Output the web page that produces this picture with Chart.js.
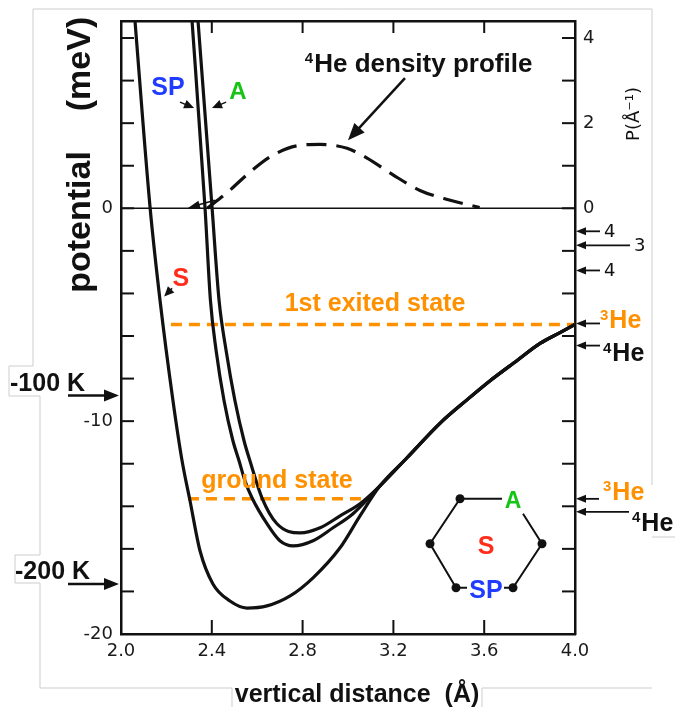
<!DOCTYPE html>
<html>
<head>
<meta charset="utf-8">
<script src="https://cdn.jsdelivr.net/npm/chart.js@4.4.1/dist/chart.umd.min.js"></script>
<style>
  html, body { margin: 0; padding: 0; background: #fff; }
</style>
</head>
<body>
<canvas id="c" width="675" height="707"></canvas>
<script>
// distance (Å) / potential (meV)
const sX = [2.055, 2.128, 2.172, 2.229, 2.269, 2.304, 2.348, 2.405, 2.480, 2.555, 2.643, 2.745, 2.846, 2.965, 3.053];
const sV = [9.7, 0.05, -4.33, -9.04, -11.86, -13.74, -16.09, -17.65, -18.45, -18.78, -18.68, -18.21, -17.36, -15.95, -14.45];
const spX = [2.307, 2.370, 2.394, 2.419, 2.454, 2.493, 2.520, 2.546, 2.577, 2.643, 2.700, 2.758, 2.846, 2.934, 3.022];
const spV = [9.7, 0.05, -4.33, -6.68, -9.04, -10.92, -11.86, -12.80, -13.6, -14.82, -15.62, -15.86, -15.62, -15.01, -14.35];
const aX = [2.333, 2.401, 2.432, 2.463, 2.502, 2.542, 2.568, 2.621, 2.687, 2.789, 2.877, 2.965, 3.053];
const aV = [9.7, 0.05, -4.33, -6.68, -9.04, -10.92, -11.86, -13.6, -14.82, -15.25, -15.01, -14.45, -13.88];
// the three curves run together past ~3.1 Å
const tailX = [3.141, 3.26, 3.405, 3.524, 3.626, 3.745, 3.846, 3.934, 4.0];
const tailV = [-13.04, -11.72, -10.1, -9.0, -8.1, -7.15, -6.35, -5.84, -5.45];

// 4He density profile, P (1/Å) on the right axis
const rhoX = [2.38, 2.47, 2.568, 2.67, 2.789, 2.877, 2.996, 3.084, 3.2, 3.317, 3.45, 3.58];
const rhoP = [0, 0.38, 0.85, 1.25, 1.48, 1.5, 1.41, 1.18, 0.78, 0.42, 0.19, 0.02];

// bound state levels
const levelNames = ['1st exited state', 'ground state'];
const levelV = [-5.46, -13.65];
const levelFrom = [2.22, 2.295];
const levelTo = [4.0, 3.084];

// marks beside the axes
const kNames = ['-100 K', '-200 K'];
const kV = [-8.8, -17.65];
const sideNames = ['4', '3', '4'];
const sideV = [-1.08, -1.74, -2.92];
const heNames = ['3', '4', '3', '4'];
const heV = [-5.41, -6.45, -13.65, -14.26];

const xTicks = [2.0, 2.4, 2.8, 3.2, 3.6, 4.0];
const vTicks = [-20, -10, 0];
const pTicks = [0, 2, 4];

const ORANGE = '#ff9100';
const INK = '#111';
const BOLD = 'bold 25px "Liberation Sans", Arial, sans-serif';

const pts = (xs, ys) => xs.map((x, i) => ({ x: x, y: ys[i] }));
const curve = (xs, ys) => pts(xs.concat(tailX), ys.concat(tailV));

const lineDs = (data, extra) => Object.assign({
  data: data, showLine: true, pointRadius: 0, borderColor: INK, borderWidth: 3.2,
  cubicInterpolationMode: 'monotone', xAxisID: 'x', yAxisID: 'y'
}, extra || {});

const datasets = [
  lineDs([{ x: 2, y: 0 }, { x: 4, y: 0 }], { borderWidth: 1.5 }),
  lineDs(curve(sX, sV)),
  lineDs(curve(spX, spV)),
  lineDs(curve(aX, aV)),
  lineDs(pts(rhoX, rhoP), { yAxisID: 'y2', borderDash: [20, 10] })
];
levelV.forEach((v, i) => {
  datasets.push(lineDs([{ x: levelFrom[i], y: v }, { x: levelTo[i], y: v }],
    { borderColor: ORANGE, borderDash: [11, 7], borderWidth: 3.5 }));
});

function seg(c, p) {
  c.beginPath();
  c.moveTo(p[0][0], p[0][1]);
  for (let i = 1; i < p.length; i++) c.lineTo(p[i][0], p[i][1]);
  c.stroke();
}

function arrow(c, x1, y1, x2, y2, len, half, w) {
  const ang = Math.atan2(y2 - y1, x2 - x1);
  const co = Math.cos(ang), si = Math.sin(ang);
  c.lineWidth = w;
  c.beginPath();
  c.moveTo(x1, y1);
  c.lineTo(x2 - co * len * 0.7, y2 - si * len * 0.7);
  c.stroke();
  c.beginPath();
  c.moveTo(x2, y2);
  c.lineTo(x2 - co * len + si * half, y2 - si * len - co * half);
  c.lineTo(x2 - co * len - si * half, y2 - si * len + co * half);
  c.closePath();
  c.fill();
}

function text(c, s, x, y, font, color, align) {
  c.font = font;
  c.fillStyle = color;
  c.textAlign = align || 'left';
  c.textBaseline = 'middle';
  c.fillText(s, x, y);
}

// superscript mass number + "He"
function he(c, sup, x, y, color, size) {
  c.fillStyle = color;
  c.textBaseline = 'middle';
  c.textAlign = 'left';
  c.font = 'bold 15px "Liberation Sans", Arial, sans-serif';
  c.fillText(sup, x, y - 6);
  const w = c.measureText(sup).width;
  c.font = 'bold ' + (size || 25) + 'px "Liberation Sans", Arial, sans-serif';
  c.fillText('He', x + w + 1, y);
}

const decor = {
  id: 'decor',
  afterDraw(chart) {
    const c = chart.ctx, a = chart.chartArea;
    const X = v => chart.scales.x.getPixelForValue(v);
    const Y = v => chart.scales.y.getPixelForValue(v);
    c.save();
    c.lineCap = 'butt';

    // faint edges of the pasted scan
    c.strokeStyle = '#cdcdcd';
    c.lineWidth = 1;
    seg(c, [[33, 9], [652, 9], [652, 485]]);
    seg(c, [[652, 537], [675, 537]]);
    seg(c, [[33, 9], [33, 366], [9, 366], [9, 396], [40, 396], [40, 555], [15, 555], [15, 583], [40, 583], [40, 688], [232, 688], [232, 707]]);
    seg(c, [[482, 707], [482, 688], [652, 688]]);

    // inward tick marks
    c.strokeStyle = INK;
    c.fillStyle = INK;
    c.lineWidth = 2;
    for (let v = -18; v <= 8; v += 2) {
      seg(c, [[a.left, Y(v)], [a.left + 13, Y(v)]]);
      seg(c, [[a.right - 13, Y(v)], [a.right, Y(v)]]);
    }
    [2.4, 2.8, 3.2, 3.6].forEach(v => {
      seg(c, [[X(v), a.bottom], [X(v), a.bottom - 14]]);
      seg(c, [[X(v), a.top], [X(v), a.top + 12]]);
    });

    // axis titles
    c.save();
    c.translate(81, 0);
    c.rotate(-Math.PI / 2);
    text(c, 'potential', -222, 0, 'bold 34px "Liberation Sans", Arial, sans-serif', INK, 'center');
    text(c, '(meV)', -64, 0, 'bold 34px "Liberation Sans", Arial, sans-serif', INK, 'center');
    c.restore();
    c.save();
    c.translate(634, 114);
    c.rotate(-Math.PI / 2);
    text(c, 'P(Å⁻¹)', 0, 0, '18px "DejaVu Sans", sans-serif', INK, 'center');
    c.restore();
    c.font = 'bold 25px "Liberation Sans", Arial, sans-serif';
    c.fillStyle = INK;
    c.textAlign = 'center';
    c.textBaseline = 'alphabetic';
    c.fillText('vertical distance  (Å)', 357, 702);

    // density profile label
    he(c, '4', X(2.81), Y(6.73), INK, 26);
    c.font = 'bold 26px "Liberation Sans", Arial, sans-serif';
    const heW = c.measureText('He').width;
    c.font = 'bold 15px "Liberation Sans", Arial, sans-serif';
    const supW = c.measureText('4').width;
    text(c, ' density profile', X(2.81) + supW + 1 + heW, Y(6.73), 'bold 26px "Liberation Sans", Arial, sans-serif', INK);
    c.fillStyle = INK;
    arrow(c, X(3.251), Y(6.12), X(3.0), Y(3.2), 17, 7, 2.5);

    // curve labels
    text(c, 'SP', X(2.207), Y(5.65), BOLD, '#1f3cff', 'center');
    text(c, 'A', X(2.515), Y(5.46), 'bold 24px "Liberation Sans", Arial, sans-serif', '#16c416', 'center');
    text(c, 'S', X(2.264), Y(-3.34), BOLD, '#ff2d1a', 'center');
    c.fillStyle = INK;
    arrow(c, X(2.26), Y(4.99), X(2.322), Y(4.71), 10, 4.5, 1.5);
    arrow(c, X(2.463), Y(4.99), X(2.401), Y(4.71), 10, 4.5, 1.5);
    arrow(c, X(2.225), Y(-3.76), X(2.19), Y(-4.14), 10, 4.5, 1.5);
    arrow(c, X(2.414), Y(0.38), X(2.295), Y(0.02), 12, 4, 1.5);

    // state labels
    text(c, levelNames[0], X(3.119), Y(-4.52), BOLD, ORANGE, 'center');
    text(c, levelNames[1], X(2.687), Y(-12.8), BOLD, ORANGE, 'center');

    // temperature marks on the left
    const kLeft = [10, 15];
    kNames.forEach((s, i) => {
      const y = Y(kV[i]);
      text(c, s, kLeft[i], y - 12, BOLD, INK);
      c.fillStyle = INK;
      arrow(c, a.left - 53, y, a.left - 2, y, 15, 6, 2.5);
    });

    // marks on the right axis
    const sideTail = [25, 55, 25];
    sideNames.forEach((s, i) => {
      const y = Y(sideV[i]);
      c.fillStyle = INK;
      arrow(c, a.right + sideTail[i], y, a.right + 1, y, 10, 4, 1.8);
      text(c, s, a.right + sideTail[i] + 4, y + 1, '18px "DejaVu Sans", sans-serif', INK);
    });
    const heTail = [25, 25, 24, 54];
    const heLeft = [25, 28, 28, 57];
    const heDy = [-2, 9, -6, 12];
    const heColor = [ORANGE, INK, ORANGE, INK];
    heNames.forEach((s, i) => {
      const y = Y(heV[i]);
      c.fillStyle = INK;
      arrow(c, a.right + heTail[i], y, a.right + 1, y, 10, 4, 1.8);
      he(c, s, a.right + heLeft[i], y + heDy[i], heColor[i]);
    });

    // hexagon inset
    const cx = X(3.608), cy = Y(-15.76);
    const TL = [cx - 26, cy - 45], L = [cx - 56, cy], BL = [cx - 30, cy + 44];
    const BR = [cx + 27, cy + 44], R = [cx + 56, cy];
    c.strokeStyle = INK;
    c.lineWidth = 2;
    seg(c, [[cx + 16, cy - 45], TL, L, BL, [cx - 19, cy + 44]]);
    seg(c, [[cx + 18, cy + 44], BR, R, [cx + 37, cy - 30]]);
    c.fillStyle = INK;
    [TL, L, BL, BR, R].forEach(p => {
      c.beginPath();
      c.arc(p[0], p[1], 4.5, 0, Math.PI * 2);
      c.fill();
    });
    text(c, 'A', cx + 27, cy - 42, 'bold 23px "Liberation Sans", Arial, sans-serif', '#16c416', 'center');
    text(c, 'S', cx, cy + 3, BOLD, '#ff2d1a', 'center');
    text(c, 'SP', cx, cy + 47, BOLD, '#1f3cff', 'center');

    c.restore();
  }
};

const tickFont = { family: '"DejaVu Sans", sans-serif', size: 18 };
const edge = { display: true, color: INK, width: 2.5 };
const noGrid = { display: false, drawTicks: false };

new Chart(document.getElementById('c'), {
  type: 'scatter',
  data: { datasets: datasets },
  options: {
    responsive: false,
    animation: false,
    devicePixelRatio: 1,
    layout: { padding: 0 },
    plugins: { legend: { display: false }, tooltip: { enabled: false } },
    scales: {
      x: {
        type: 'linear', position: 'bottom', min: 2, max: 4,
        grid: noGrid, border: edge,
        ticks: { font: tickFont, color: '#1a1a1a', padding: 7, maxRotation: 0, autoSkip: false,
                 callback: v => v.toFixed(1) },
        afterBuildTicks: s => { s.ticks = xTicks.map(v => ({ value: v })); },
        afterFit: s => { s.height = 73; }
      },
      xTop: {
        type: 'linear', position: 'top', min: 2, max: 4,
        grid: noGrid, border: edge, ticks: { display: false },
        afterFit: s => { s.height = 21; }
      },
      y: {
        type: 'linear', position: 'left', min: -20, max: 8.8,
        grid: noGrid, border: edge,
        ticks: { font: tickFont, color: '#1a1a1a', padding: 8, autoSkip: false, callback: v => String(v) },
        afterBuildTicks: s => { s.ticks = vTicks.map(v => ({ value: v })); },
        afterFit: s => { s.width = 121; }
      },
      y2: {
        type: 'linear', position: 'right', min: -10, max: 4.4,
        grid: noGrid, border: edge,
        ticks: { font: tickFont, color: '#1a1a1a', padding: 8, autoSkip: false, callback: v => String(v) },
        afterBuildTicks: s => { s.ticks = pTicks.map(v => ({ value: v })); },
        afterFit: s => { s.width = 100; }
      }
    }
  },
  plugins: [decor]
});
</script>
</body>
</html>
